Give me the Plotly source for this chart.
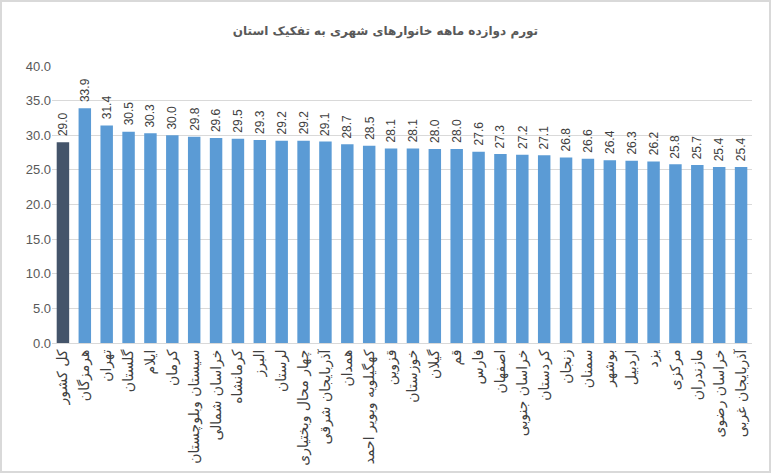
import plotly.graph_objects as go

provinces = [
    "کل کشور", "هرمزگان", "تهران", "گلستان", "ایلام", "کرمان",
    "سیستان وبلوچستان", "خراسان شمالی", "کرمانشاه", "البرز", "لرستان",
    "چهار محال وبختیاری", "آذربایجان شرقی", "همدان", "کهگیلویه وبویر احمد",
    "قزوین", "خوزستان", "گیلان", "قم", "فارس", "اصفهان", "خراسان جنوبی",
    "کردستان", "زنجان", "سمنان", "بوشهر", "اردبیل", "یزد", "مرکزی",
    "مازندران", "خراسان رضوی", "آذربایجان غربی",
]
inflation = [
    29.0, 33.9, 31.4, 30.5, 30.3, 30.0, 29.8, 29.6, 29.5, 29.3, 29.2,
    29.2, 29.1, 28.7, 28.5, 28.1, 28.1, 28.0, 28.0, 27.6, 27.3, 27.2,
    27.1, 26.8, 26.6, 26.4, 26.3, 26.2, 25.8, 25.7, 25.4, 25.4,
]
y_ticks = [0, 5, 10, 15, 20, 25, 30, 35, 40]

# national average in dark, provinces in light blue
colors = ["#44546A"] + ["#5B9BD5"] * (len(provinces) - 1)

fig = go.Figure(go.Bar(
    x=provinces,
    y=inflation,
    marker=dict(color=colors, line=dict(width=0)),
    cliponaxis=False,
    hoverinfo="x+y",
))

# vertical value labels above each bar
for name, val in zip(provinces, inflation):
    fig.add_annotation(
        x=name, y=val, text=f"{val:.1f}",
        textangle=-90, showarrow=False,
        xanchor="center", yanchor="bottom", yshift=4,
        font=dict(family="Liberation Sans, Arial", size=12, color="#404040"),
    )

fig.update_layout(
    title=dict(
        text="<b>تورم دوازده ماهه خانوارهای شهری به تفکیک استان</b>",
        x=0.5, xanchor="center", y=0.935, yanchor="middle",
        font=dict(family="DejaVu Sans", size=12, color="#595959"),
    ),
    width=771, height=474,
    margin=dict(l=52, r=19, t=66, b=131),
    paper_bgcolor="white", plot_bgcolor="white",
    bargap=0.43,
    showlegend=False,
    xaxis=dict(
        tickangle=-90,
        tickfont=dict(family="DejaVu Sans", size=14, color="#404040"),
        showline=True, linecolor="#D9D9D9", linewidth=1,
        ticks="", showgrid=False, automargin=False,
    ),
    yaxis=dict(
        range=[0, 40],
        tickvals=y_ticks,
        ticktext=[f"{t:.1f}" for t in y_ticks],
        tickfont=dict(family="Liberation Sans, Arial", size=13, color="#595959"),
        showgrid=True, gridcolor="#D9D9D9", gridwidth=1,
        zeroline=False, ticks="",
    ),
    shapes=[dict(
        type="rect", xref="paper", yref="paper",
        x0=-51 / 700, x1=1 + 18 / 700, y0=-129 / 277, y1=1 + 65 / 277,
        line=dict(color="#D9D9D9", width=2), fillcolor="rgba(0,0,0,0)",
        layer="below",
    )],
)

# drop the default page margin so the chart sits at the window corner
fig.write_html(
    "out.html",
    config={"displayModeBar": False},
    post_script="document.body.style.margin = '0';",
)
